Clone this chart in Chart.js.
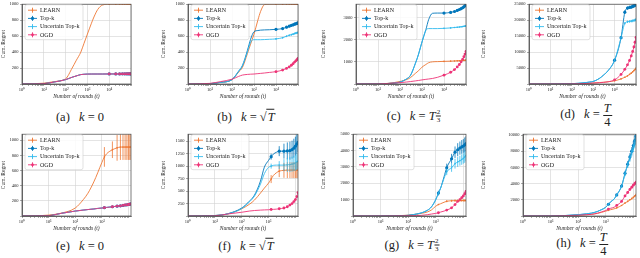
<!DOCTYPE html>
<html>
<head>
<meta charset="utf-8">
<script src="https://cdn.jsdelivr.net/npm/chart.js@4.4.1/dist/chart.umd.min.js"></script>
<style>
  body { margin: 0; width: 640px; height: 258px; background: #fff; position: relative; overflow: hidden; font-family: "Liberation Serif", serif; }
  canvas { position: absolute; }
  .cap { position: absolute; font-size: 12.5px; font-weight: normal; white-space: nowrap; transform: translate(-50%, -50%); color: #222; line-height: 1; }
  .cap b { font-weight: normal; margin-right: 6px; }
  .frac { display: inline-flex; flex-direction: column; vertical-align: middle; text-align: center; line-height: 1; }
  .frac .num { border-bottom: 0.8px solid #222; padding: 0 1px; }
  .sm { font-size: 7px; }
  .ov { border-top: 0.8px solid #222; padding-left: 1px; }
</style>
</head>
<body>
<div class="cap" style="left:80px;top:117px"><b>(a)</b> <i>k</i> = 0</div>
<div class="cap" style="left:246px;top:117px"><b>(b)</b> <i>k</i> = √<span class="ov"><i>T</i></span></div>
<div class="cap" style="left:414px;top:116px"><b>(c)</b> <i>k</i> = <i>T</i><span class="frac sm" style="vertical-align:6px"><span class="num">2</span><span>3</span></span></div>
<div class="cap" style="left:586px;top:115px"><b>(d)</b> <i>k</i> = <span class="frac"><span class="num"><i>T</i></span><span>4</span></span></div>
<div class="cap" style="left:80px;top:246px"><b>(e)</b> <i>k</i> = 0</div>
<div class="cap" style="left:246px;top:246px"><b>(f)</b> <i>k</i> = √<span class="ov"><i>T</i></span></div>
<div class="cap" style="left:412px;top:245px"><b>(g)</b> <i>k</i> = <i>T</i><span class="frac sm" style="vertical-align:6px"><span class="num">2</span><span>3</span></span></div>
<div class="cap" style="left:582px;top:244px"><b>(h)</b> <i>k</i> = <span class="frac"><span class="num"><i>T</i></span><span>4</span></span></div>
<script>
// rounds t sampled for the curves (top row T = 1e5, bottom row T = 12500)
const tTop = [1, 10, 30, 100, 200, 300, 500, 700, 1000, 1500, 2000, 3000, 5000, 10000, 20000, 30000, 40000, 50000, 60000, 70000, 80000, 90000, 100000];
const tBot = [1, 10, 30, 100, 200, 300, 500, 700, 1000, 1250, 1500, 2000, 2500, 3750, 5000, 6250, 7500, 8750, 10000, 11250, 12500];
// rounds where markers + error bars are drawn
const markTop = [10000, 20000, 30000, 40000, 50000, 60000, 70000, 80000, 90000, 100000];
const markBot = [1250, 2500, 3750, 5000, 6250, 7500, 8750, 10000, 11250, 12500];

const seriesNames = ['LEARN', 'Top-k', 'Uncertain Top-k', 'OGD'];
const seriesColors = ['#EE7733', '#0077BB', '#33BBEE', '#EE3377'];
const markerSize = [0.8, 1.6, 0.8, 1.4];

// (a) k = 0
const learnA = [0, 10, 30, 65, 200, 290, 400, 510, 625, 755, 840, 935, 990, 1000, 1000, 1000, 1000, 1000, 1000, 1000, 1000, 1000, 1000];
const topkA = [0, 5, 25, 55, 85, 100, 118, 122, 124, 125, 125, 125, 125, 126, 126, 126, 127, 127, 127, 127, 128, 128, 128];
const uncA = [0, 5, 25, 55, 85, 100, 118, 122, 124, 125, 125, 125, 125, 126, 126, 126, 127, 127, 127, 127, 128, 128, 128];
const ogdA = [0, 5, 25, 55, 85, 100, 118, 122, 124, 125, 125, 125, 125, 126, 126, 126, 127, 127, 127, 127, 128, 128, 128];
// (b) k = sqrt(T)
const learnB = [0, 5, 20, 55, 150, 210, 380, 500, 625, 800, 910, 995, 1000, 1000, 1000, 1000, 1000, 1000, 1000, 1000, 1000, 1000, 1000];
const topkB = [0, 5, 20, 55, 160, 230, 420, 560, 655, 670, 675, 678, 680, 685, 695, 712, 725, 735, 742, 750, 755, 760, 765];
const uncB = [0, 5, 20, 55, 160, 235, 400, 525, 555, 555, 555, 557, 560, 565, 580, 598, 610, 618, 625, 632, 637, 641, 645];
const ogdB = [0, 8, 30, 60, 95, 112, 120, 123, 125, 130, 133, 138, 145, 155, 175, 195, 215, 235, 255, 275, 290, 305, 320];
// (c) k = T^(2/3)
const learnC = [0, 5, 30, 115, 200, 290, 480, 600, 760, 880, 960, 1000, 1010, 1020, 1030, 1040, 1045, 1050, 1055, 1060, 1065, 1070, 1080];
const topkC = [0, 5, 25, 85, 230, 390, 930, 1350, 1900, 2450, 2900, 3190, 3200, 3200, 3230, 3270, 3320, 3360, 3400, 3440, 3480, 3530, 3600];
const uncC = [0, 5, 25, 85, 230, 390, 930, 1350, 1900, 2420, 2500, 2500, 2500, 2510, 2530, 2550, 2560, 2570, 2580, 2590, 2600, 2610, 2620];
const ogdC = [0, 5, 25, 60, 90, 110, 140, 160, 185, 210, 225, 250, 300, 400, 530, 650, 770, 880, 1000, 1110, 1230, 1350, 1470];
// (d) k = T/4
const learnD = [0, 5, 20, 50, 90, 130, 180, 230, 300, 380, 450, 550, 700, 1000, 1600, 2100, 2550, 3000, 3400, 3800, 4200, 4550, 4900];
const topkD = [0, 10, 40, 100, 220, 320, 480, 620, 800, 1300, 1800, 2750, 4200, 7450, 14500, 22500, 23800, 24000, 24100, 24300, 24500, 24700, 25200];
const uncD = [0, 10, 40, 100, 220, 320, 480, 620, 800, 1300, 1800, 2750, 4200, 7450, 14500, 19000, 19500, 19600, 19700, 19800, 19900, 20000, 20200];
const ogdD = [0, 5, 20, 50, 90, 130, 180, 230, 300, 360, 400, 500, 700, 1300, 3000, 4600, 6000, 7400, 8800, 10200, 11600, 13100, 14600];
// (e) k = 0
const learnE = [0, 12, 38, 105, 215, 300, 450, 570, 705, 780, 820, 855, 875, 900, 910, 910, 910, 910, 910, 910, 910];
const topkE = [0, 5, 35, 65, 78, 85, 93, 100, 105, 110, 113, 118, 122, 130, 135, 140, 145, 148, 152, 156, 160];
const uncE = [0, 5, 35, 65, 78, 85, 93, 100, 105, 110, 113, 118, 122, 130, 135, 140, 145, 148, 152, 156, 160];
const ogdE = [0, 5, 35, 65, 78, 85, 93, 100, 105, 110, 113, 118, 122, 130, 135, 140, 145, 148, 152, 156, 160];
// (f) k = sqrt(T)
const learnF = [0, 10, 40, 145, 240, 320, 460, 560, 660, 740, 810, 870, 900, 915, 920, 920, 920, 920, 920, 920, 920];
const topkF = [0, 10, 45, 160, 305, 420, 700, 980, 1115, 1190, 1240, 1280, 1300, 1300, 1305, 1310, 1330, 1360, 1400, 1440, 1475];
const uncF = [0, 10, 42, 150, 290, 400, 640, 850, 975, 1000, 1015, 1020, 1020, 1020, 1025, 1030, 1040, 1050, 1065, 1080, 1100];
const ogdF = [0, 5, 40, 75, 100, 110, 118, 122, 125, 130, 133, 138, 145, 160, 185, 220, 250, 290, 330, 390, 470];
// (g) k = T^(2/3)
const learnG = [0, 5, 15, 50, 110, 160, 250, 370, 600, 700, 750, 840, 900, 930, 940, 940, 945, 945, 950, 950, 950];
const topkG = [0, 5, 15, 40, 120, 190, 350, 560, 1000, 1400, 1700, 2400, 2950, 3500, 3900, 4050, 4150, 4220, 4280, 4350, 4420];
const uncG = [0, 5, 15, 40, 120, 190, 350, 560, 1000, 1400, 1700, 2300, 2700, 2950, 3200, 3300, 3380, 3450, 3520, 3600, 3700];
const ogdG = [0, 2, 8, 20, 30, 40, 80, 120, 160, 200, 240, 300, 360, 500, 700, 900, 1000, 1120, 1230, 1360, 1500];
// (h) k = T/4
const learnH = [0, 5, 30, 100, 160, 200, 320, 450, 600, 700, 780, 880, 1000, 1300, 1600, 1800, 2000, 2150, 2300, 2450, 2600];
const topkH = [0, 10, 50, 160, 270, 350, 560, 780, 1080, 1450, 1750, 2080, 2600, 3700, 5280, 6400, 7300, 8000, 8700, 9300, 9900];
const uncH = [0, 10, 50, 160, 270, 350, 560, 780, 1080, 1450, 1750, 2080, 2600, 3650, 5200, 6300, 7100, 7800, 8400, 8900, 9400];
const ogdH = [0, 5, 30, 100, 160, 200, 350, 500, 680, 850, 950, 1080, 1300, 1800, 2480, 2900, 3280, 3550, 3800, 4000, 4160];

// error bar half-lengths at the marker rounds
const learnErrA = [6, 6, 6, 6, 6, 6, 6, 6, 6, 6];
const topkErrA = [3, 3, 3, 3, 3, 3, 3, 3, 3, 3];
const uncErrA = [3, 3, 3, 3, 3, 3, 3, 3, 3, 3];
const ogdErrA = [5, 5, 6, 6, 6, 7, 7, 7, 8, 8];
const learnErrB = [8, 8, 8, 8, 8, 8, 8, 8, 8, 8];
const topkErrB = [12, 14, 15, 16, 17, 18, 18, 19, 20, 20];
const uncErrB = [10, 10, 11, 12, 12, 13, 13, 14, 14, 15];
const ogdErrB = [6, 7, 8, 9, 10, 10, 11, 12, 12, 13];
const learnErrC = [15, 15, 15, 15, 15, 15, 15, 15, 15, 15];
const topkErrC = [30, 35, 40, 45, 50, 50, 55, 55, 60, 60];
const uncErrC = [20, 20, 20, 20, 20, 20, 20, 20, 20, 20];
const ogdErrC = [15, 20, 25, 30, 30, 35, 35, 40, 40, 45];
const learnErrD = [100, 120, 150, 160, 180, 200, 220, 240, 250, 260];
const topkErrD = [250, 400, 500, 500, 500, 500, 550, 550, 600, 600];
const uncErrD = [250, 350, 400, 400, 400, 400, 450, 450, 450, 500];
const ogdErrD = [100, 150, 200, 250, 300, 320, 340, 360, 380, 400];
const learnErrE = [130, 110, 170, 170, 170, 170, 170, 170, 170, 170];
const topkErrE = [3, 3, 3, 3, 3, 3, 3, 3, 3, 3];
const uncErrE = [3, 3, 3, 3, 3, 3, 3, 3, 3, 3];
const ogdErrE = [5, 6, 6, 7, 7, 8, 8, 9, 9, 10];
const learnErrF = [80, 120, 150, 160, 160, 160, 160, 160, 160, 160];
const topkErrF = [60, 100, 150, 170, 180, 180, 190, 190, 200, 200];
const uncErrF = [50, 80, 120, 140, 150, 150, 150, 160, 160, 160];
const ogdErrF = [5, 5, 5, 8, 10, 10, 12, 15, 15, 20];
const learnErrG = [40, 60, 60, 70, 70, 70, 70, 70, 70, 70];
const topkErrG = [150, 250, 300, 350, 400, 400, 420, 420, 450, 450];
const uncErrG = [100, 200, 250, 300, 300, 300, 320, 320, 350, 350];
const ogdErrG = [20, 30, 40, 50, 60, 60, 70, 80, 80, 90];
const learnErrH = [30, 50, 60, 80, 100, 100, 120, 120, 140, 150];
const topkErrH = [60, 120, 200, 300, 400, 450, 500, 550, 600, 650];
const uncErrH = [60, 120, 200, 300, 350, 400, 450, 500, 550, 600];
const ogdErrH = [30, 50, 80, 100, 120, 140, 150, 160, 180, 200];

// y-axis ranges
const yMaxes = [1000, 1000, 3600, 25000, 1080, 1640, 5000, 10100];
const ySteps = [200, 200, 1000, 5000, 200, 250, 1000, 2000];

// panel placement (left edge of the panel, plot area left/right, canvas top)
const panels = [
  { t: tTop, marks: markTop, labelMax: 1e4, s: [learnA, topkA, uncA, ogdA], e: [learnErrA, topkErrA, uncErrA, ogdErrA], left: 0, plotL: 22, plotR: 133, top: 0 },
  { t: tTop, marks: markTop, labelMax: 1e4, s: [learnB, topkB, uncB, ogdB], e: [learnErrB, topkErrB, uncErrB, ogdErrB], left: 160, plotL: 188, plotR: 300, top: 0 },
  { t: tTop, marks: markTop, labelMax: 1e4, s: [learnC, topkC, uncC, ogdC], e: [learnErrC, topkErrC, uncErrC, ogdErrC], left: 320, plotL: 356, plotR: 468, top: 0 },
  { t: tTop, marks: markTop, labelMax: 1e4, s: [learnD, topkD, uncD, ogdD], e: [learnErrD, topkErrD, uncErrD, ogdErrD], left: 480, plotL: 529, plotR: 638, top: 0 },
  { t: tBot, marks: markBot, labelMax: 1e3, s: [learnE, topkE, uncE, ogdE], e: [learnErrE, topkErrE, uncErrE, ogdErrE], left: 0, plotL: 22, plotR: 133, top: 130 },
  { t: tBot, marks: markBot, labelMax: 1e3, s: [learnF, topkF, uncF, ogdF], e: [learnErrF, topkErrF, uncErrF, ogdErrF], left: 160, plotL: 188, plotR: 300, top: 130 },
  { t: tBot, marks: markBot, labelMax: 1e3, s: [learnG, topkG, uncG, ogdG], e: [learnErrG, topkErrG, uncErrG, ogdErrG], left: 320, plotL: 353, plotR: 468, top: 130 },
  { t: tBot, marks: markBot, labelMax: 1e3, s: [learnH, topkH, uncH, ogdH], e: [learnErrH, topkErrH, uncErrH, ogdErrH], left: 480, plotL: 523, plotR: 638, top: 130 }
];

const FONT = 'Liberation Serif';
const SUP = ['⁰', '¹', '²', '³', '⁴', '⁵'];
const isPow10 = v => Math.abs(Math.log10(v) - Math.round(Math.log10(v))) < 1e-9;

// error bars, frame and legend drawn on top of the lines
const extras = {
  id: 'extras',
  afterDatasetsDraw(chart) {
    const { ctx, chartArea: a, scales } = chart;
    ctx.save();
    ctx.beginPath();
    ctx.rect(a.left, a.top, a.right - a.left, a.bottom - a.top);
    ctx.clip();
    chart.data.datasets.forEach((ds, k) => {
      const meta = chart.getDatasetMeta(k);
      ctx.strokeStyle = ds.borderColor;
      ctx.lineWidth = 0.8;
      ds.marks.forEach((t, j) => {
        const i = ds.data.findIndex(d => d.x === t);
        if (i < 0) return;
        const x = meta.data[i].x;
        const v = ds.data[i].y;
        ctx.beginPath();
        ctx.moveTo(x, scales.y.getPixelForValue(v - ds.errs[j]));
        ctx.lineTo(x, scales.y.getPixelForValue(v + ds.errs[j]));
        ctx.stroke();
      });
    });
    ctx.restore();

    // frame
    ctx.save();
    ctx.strokeStyle = '#444';
    ctx.lineWidth = 0.7;
    ctx.strokeRect(a.left, a.top, a.right - a.left, a.bottom - a.top);
    ctx.restore();

    // legend box in the upper left corner
    const lx = a.left + 3, ly = a.top + 0.5;
    ctx.save();
    ctx.fillStyle = 'rgba(255,255,255,0.85)';
    ctx.strokeStyle = '#cccccc';
    ctx.lineWidth = 0.6;
    ctx.beginPath();
    ctx.roundRect(lx, ly, 58, 35, 2);
    ctx.fill();
    ctx.stroke();
    ctx.font = '6px "' + FONT + '"';
    ctx.textBaseline = 'middle';
    chart.data.datasets.forEach((ds, k) => {
      const ry = ly + 5.5 + k * 8.2;
      ctx.strokeStyle = ds.borderColor;
      ctx.lineWidth = 0.9;
      ctx.beginPath();
      ctx.moveTo(lx + 3, ry); ctx.lineTo(lx + 12, ry);
      ctx.moveTo(lx + 7.5, ry - 2.5); ctx.lineTo(lx + 7.5, ry + 2.5);
      ctx.stroke();
      ctx.fillStyle = ds.borderColor;
      ctx.beginPath();
      ctx.arc(lx + 7.5, ry, markerSize[k], 0, Math.PI * 2);
      ctx.fill();
      ctx.fillStyle = '#222';
      ctx.fillText(ds.label, lx + 15, ry + 0.3);
    });
    ctx.restore();
  }
};

panels.forEach((p, n) => {
  const cv = document.createElement('canvas');
  const w = p.plotR + 2 - p.left;
  const h = p.top === 0 ? 101 : 103;
  cv.width = w;
  cv.height = h;
  cv.style.left = p.left + 'px';
  cv.style.top = p.top + 'px';
  document.body.appendChild(cv);

  const tMax = p.t[p.t.length - 1];
  const datasets = p.s.map((vals, k) => ({
    label: seriesNames[k],
    data: p.t.map((t, i) => ({ x: t, y: vals[i] })),
    borderColor: seriesColors[k],
    backgroundColor: seriesColors[k],
    borderWidth: 0.9,
    pointRadius: c => (c.raw && p.marks.includes(c.raw.x)) ? markerSize[k] : 0,
    pointBorderWidth: 0,
    cubicInterpolationMode: 'monotone',
    order: 4 - k,
    marks: p.marks,
    errs: p.e[k]
  }));

  new Chart(cv.getContext('2d'), {
    type: 'line',
    data: { datasets },
    options: {
      responsive: false,
      animation: false,
      devicePixelRatio: 1,
      layout: { padding: { left: 0, right: 2, top: 0, bottom: 0 } },
      plugins: { legend: { display: false }, tooltip: { enabled: false } },
      scales: {
        x: {
          type: 'logarithmic',
          min: 1,
          max: tMax,
          afterBuildTicks: s => {
            const ticks = [];
            for (let e = 0; e <= 5; e++) {
              for (let m = 1; m <= 9; m++) {
                const v = m * Math.pow(10, e);
                if (v <= tMax) ticks.push({ value: v });
              }
            }
            s.ticks = ticks;
          },
          afterFit: s => { s.height = 17; },
          ticks: {
            autoSkip: false, maxRotation: 0, padding: 1, color: '#222',
            font: { family: FONT, size: 4.5 },
            callback: v => (isPow10(v) && v <= p.labelMax) ? '10' + SUP[Math.round(Math.log10(v))] : ''
          },
          grid: {
            color: c => (c.tick && isPow10(c.tick.value)) ? '#d2d2d2' : 'rgba(0,0,0,0)',
            lineWidth: 0.6, tickLength: 2, tickColor: '#555', tickWidth: 0.5
          },
          border: { color: '#444', width: 0.7 },
          title: {
            display: true, text: 'Number of rounds (t)', color: '#222',
            font: { family: FONT, size: 5.5, style: 'italic' },
            padding: { top: 0, bottom: 1 }
          }
        },
        y: {
          min: 0,
          max: yMaxes[n],
          afterBuildTicks: s => {
            const ticks = [];
            for (let v = 0; v <= yMaxes[n] + 1e-6; v += ySteps[n]) ticks.push({ value: v });
            s.ticks = ticks;
          },
          afterFit: s => { s.width = p.plotL - p.left; },
          ticks: {
            padding: 1.5, color: '#222',
            font: { family: FONT, size: 4.5 },
            callback: v => v === 0 ? '' : String(v)
          },
          grid: { color: '#d2d2d2', lineWidth: 0.6, tickLength: 2, tickColor: '#555', tickWidth: 0.5 },
          border: { color: '#444', width: 0.7 },
          title: {
            display: true, text: 'Cum. Regret', color: '#222',
            font: { family: FONT, size: 5.5 },
            padding: { top: 0, bottom: 1 }
          }
        }
      }
    },
    plugins: [extras]
  });
});
</script>
</body>
</html>
